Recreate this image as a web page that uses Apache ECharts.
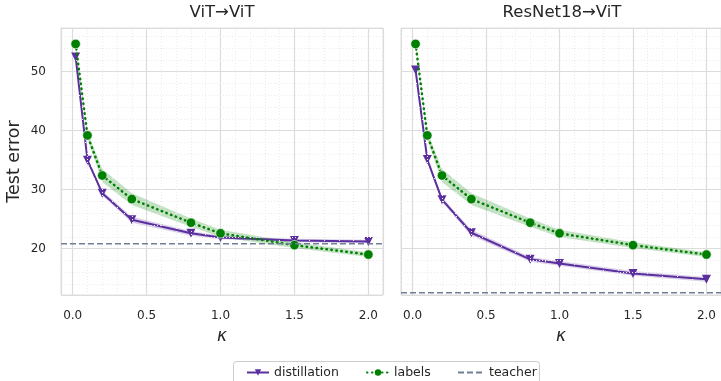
<!DOCTYPE html>
<html>
<head>
<meta charset="utf-8">
<script src="https://cdn.jsdelivr.net/npm/echarts@6/dist/echarts.min.js"></script>
<style>html,body{margin:0;padding:0;background:#fff;}#c{width:721px;height:381px;}</style>
</head>
<body>
<div id="c"></div>
<script>
// ---- data ----
const kappa = [0.02, 0.1, 0.2, 0.4, 0.8, 1.0, 1.5, 2.0];
const vitDist = [52.5, 35.0, 29.4, 24.9, 22.6, 21.9, 21.4, 21.2];
const vitDistCI = [0.3, 0.3, 0.4, 0.5, 0.4, 0.3, 0.3, 0.3];
const vitLabels = [54.7, 39.2, 32.4, 28.4, 24.4, 22.6, 20.6, 19.0];
const labelsCI = [0.3, 0.6, 1.1, 1.0, 0.7, 0.6, 0.5, 0.4];
const resDist = [50.3, 35.1, 28.3, 22.7, 18.2, 17.5, 15.8, 14.8];
const resDistCI = [0.3, 0.3, 0.4, 0.5, 0.4, 0.4, 0.4, 0.4];
const resLabels = [54.7, 39.2, 32.4, 28.4, 24.4, 22.6, 20.6, 19.0];
const teacherVit = 20.85;
const teacherRes = 12.55;
const panelTitles = ['ViT\u2192ViT', 'ResNet18\u2192ViT'];
const xMinorTicks = [0.1,0.2,0.3,0.4,0.6,0.7,0.8,0.9,1.1,1.2,1.3,1.4,1.6,1.7,1.8,1.9];
const yMinorTicks = [14,16,18,22,24,26,28,32,34,36,38,42,44,46,48,52,54,56];

// ---- axis limits ----
const xMin = -0.079, xMax = 2.099;
const yMin = 12.15, yMax = 57.4;

const PURPLE = '#5b2f9e';
const GREEN = '#008000';
const TEACH = '#6f7f95';
const TXT = '#262626';
const FONT = 'DejaVu Sans';

const panels = [
  {dist: vitDist, distCI: vitDistCI, lab: vitLabels, labCI: labelsCI, teacher: teacherVit},
  {dist: resDist, distCI: resDistCI, lab: resLabels, labCI: labelsCI, teacher: teacherRes}
];

const grids = [
  {left: 61, top: 28, width: 322, height: 267},
  {left: 401, top: 28, width: 322, height: 267}
];

const xAxes = grids.map((g, i) => ({
  type: 'value', gridIndex: i, min: xMin, max: xMax,
  name: '\u03ba', nameLocation: 'middle', nameGap: 33,
  nameTextStyle: {fontFamily: FONT, fontStyle: 'italic', fontSize: 17, color: TXT},
  axisLine: {show: false}, axisTick: {show: false},
  axisLabel: {showMinLabel: false, showMaxLabel: false, margin: 15, fontFamily: FONT, fontSize: 12, color: TXT,
    formatter: v => v.toFixed(1)},
  splitLine: {show: true, lineStyle: {color: '#dcdcdc', width: 1.2}}
}));

const yAxes = grids.map((g, i) => ({
  type: 'value', gridIndex: i, min: yMin, max: yMax,
  name: i === 0 ? 'Test error' : '', nameLocation: 'middle', nameGap: 38,
  nameTextStyle: {fontFamily: FONT, fontSize: 17.5, color: TXT},
  axisLine: {show: false}, axisTick: {show: false},
  axisLabel: {show: i === 0, showMinLabel: false, showMaxLabel: false, margin: 15, fontFamily: FONT, fontSize: 12, color: TXT},
  splitLine: {show: true, lineStyle: {color: '#dcdcdc', width: 1.2}}
}));

function bandSeries(i, vals, ci, color) {
  return {
    type: 'custom', xAxisIndex: i, yAxisIndex: i, silent: true, z: 1,
    data: [[kappa[0], vals[0]]],
    clip: true,
    renderItem: function (params, api) {
      const upper = kappa.map((k, j) => api.coord([k, vals[j] + ci[j]]));
      const lower = kappa.map((k, j) => api.coord([k, vals[j] - ci[j]])).reverse();
      return {type: 'polygon', shape: {points: upper.concat(lower)}, style: {fill: color, stroke: 'none'}};
    }
  };
}

const series = [];
panels.forEach((p, i) => {
  series.push({
    type: 'line', name: 'minor' + i, xAxisIndex: i, yAxisIndex: i, data: [],
    silent: true, showSymbol: false, z: 0,
    markLine: {
      silent: true, symbol: ['none', 'none'], label: {show: false},
      lineStyle: {color: '#ebebeb', type: [1, 2], width: 1},
      emphasis: {disabled: true},
      data: xMinorTicks.map(v => ({xAxis: v})).concat(yMinorTicks.map(v => ({yAxis: v})))
    }
  });
  series.push(bandSeries(i, p.dist, p.distCI, 'rgba(91,47,158,0.22)'));
  series.push(bandSeries(i, p.lab, p.labCI, 'rgba(0,128,0,0.24)'));
  const distData = kappa.map((k, j) => [k, p.dist[j]]);
  const labData = kappa.map((k, j) => [k, p.lab[j]]);
  series.push({
    type: 'line', name: 'distillation', xAxisIndex: i, yAxisIndex: i, z: 3,
    data: distData,
    symbol: 'triangle', symbolRotate: 180, symbolSize: 9, showSymbol: false,
    lineStyle: {color: PURPLE, width: 2},
    itemStyle: {color: PURPLE}
  });
  series.push({
    type: 'scatter', name: 'distPts' + i, xAxisIndex: i, yAxisIndex: i, z: 4,
    data: distData, symbol: 'triangle', symbolRotate: 180, symbolSize: 9,
    itemStyle: {color: PURPLE, opacity: 1, borderWidth: 0}
  });
  series.push({
    type: 'line', name: 'labels', xAxisIndex: i, yAxisIndex: i, z: 5,
    data: labData,
    symbol: 'circle', symbolSize: 9, showSymbol: false,
    lineStyle: {color: GREEN, width: 2.5, type: [0.5, 4.5], cap: 'round'},
    itemStyle: {color: GREEN}
  });
  series.push({
    type: 'scatter', name: 'labPts' + i, xAxisIndex: i, yAxisIndex: i, z: 6,
    data: labData, symbol: 'circle', symbolSize: 9.5,
    itemStyle: {color: GREEN, opacity: 1, borderColor: '#ffffff', borderWidth: 0.6}
  });
  series.push({
    type: 'line', name: 'teacher', xAxisIndex: i, yAxisIndex: i, z: 7,
    data: [[xMin, p.teacher], [xMax, p.teacher]],
    symbol: 'none', showSymbol: false,
    lineStyle: {color: TEACH, width: 1.5, type: [6, 3]},
    itemStyle: {color: TEACH}
  });
});

const legendBase = {
  orient: 'horizontal', top: 366, itemHeight: 8, padding: 0,
  textStyle: {fontFamily: FONT, fontSize: 12.5, color: TXT},
  selectedMode: false
};

const option = {
  animation: false,
  backgroundColor: '#ffffff',
  title: panelTitles.map((t, i) => ({
    text: t, left: grids[i].left + 161, top: 4, textAlign: 'center', padding: 0,
    textStyle: {fontFamily: FONT, fontSize: 16.5, fontWeight: 'normal', color: TXT}
  })),
  grid: grids.map(g => Object.assign({show: true, borderColor: '#e0e0e0', borderWidth: 1, backgroundColor: '#fff'}, g)),
  xAxis: xAxes,
  yAxis: yAxes,
  legend: [
    Object.assign({}, legendBase, {left: 246, itemWidth: 22, data: ['distillation']}),
    Object.assign({}, legendBase, {left: 366, itemWidth: 22, data: ['labels']}),
    Object.assign({}, legendBase, {left: 457, itemWidth: 26, data: ['teacher'], itemStyle: {opacity: 0}})
  ],
  graphic: [{
    type: 'rect', z: -1,
    shape: {x: 233.5, y: 361.5, width: 306, height: 30, r: 3},
    style: {fill: '#fff', stroke: '#cccccc', lineWidth: 1}
  }],
  series: series
};

const chart = echarts.init(document.getElementById('c'), null, {renderer: 'canvas'});
chart.setOption(option);
</script>
</body>
</html>
